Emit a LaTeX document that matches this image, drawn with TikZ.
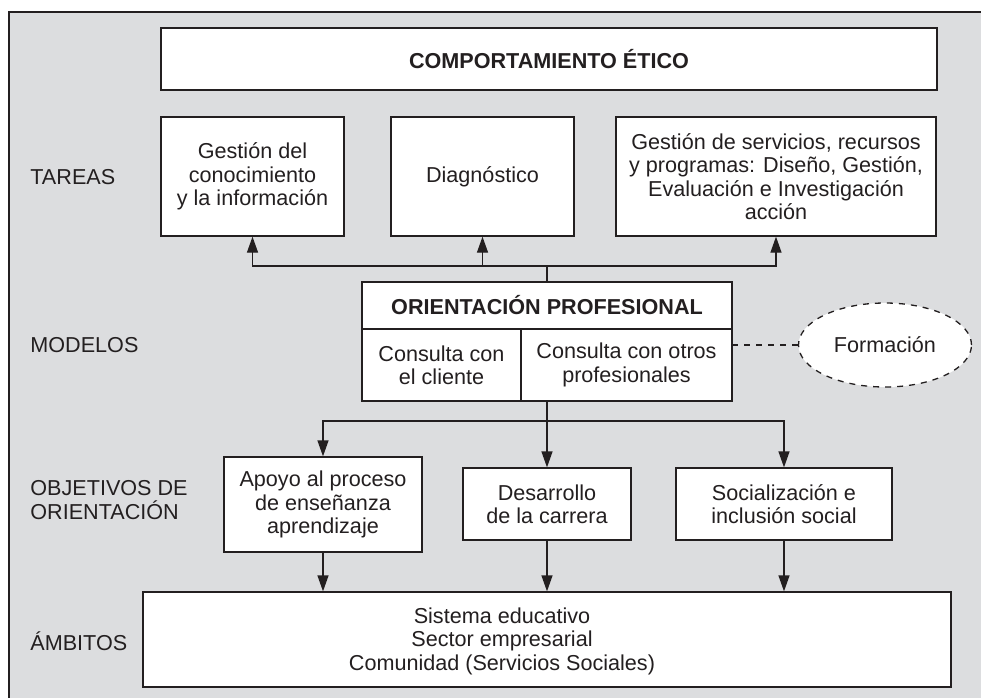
\documentclass[tikz,border=0pt]{standalone}
\usepackage{fontspec}
\setmainfont{Liberation Sans}
\usepackage{tikz}
\usetikzlibrary{calc, arrows.meta, shapes.geometric}
\usepackage{xcolor}
\definecolor{fondo}{RGB}{220,221,223}
\definecolor{tinta}{RGB}{35,31,32}
\tikzstyle{caja} = [rectangle, draw=tinta, fill=white, line width=0.65pt, text=tinta, align=center, inner sep=2pt, font=\fontsize{10.8}{11.7}\selectfont]
\tikzstyle{etiqueta} = [anchor=west, align=left, inner sep=0pt, text=tinta, font=\fontsize{10.8}{11.7}\selectfont]
\tikzstyle{flecha} = [-{Triangle[length=8pt, width=5.5pt]}, draw=tinta, line width=0.65pt]

\begin{document}
\begin{tikzpicture}[x=0.5pt, y=-0.5pt]

        \useasboundingbox (0,0) rectangle (981,698);
        \fill[fondo] (9,12) rectangle (981,698);
        \draw[tinta, line width=0.65pt] (981,12) -- (9,12) -- (9,698);

        \node (etico) [caja, minimum width=388pt, minimum height=31pt] at (549,59) {\textbf{COMPORTAMIENTO ÉTICO}};

        \node (gestion) [caja, minimum width=91.5pt, minimum height=59.5pt] at (252.5,176.5) {Gestión del\\conocimiento\\y la información};
        \node (diag) [caja, minimum width=91.5pt, minimum height=59.5pt] at (482.5,176.5) {Diagnóstico};
        \node (servicios) [caja, minimum width=160pt, minimum height=59.5pt] at (776,176.5) {Gestión de servicios, recursos\\y programas: Diseño, Gestión,\\Evaluación e Investigación\\acción};

        \node (op) [caja, minimum width=185pt, minimum height=23.5pt] at (547,305.5) {\textbf{ORIENTACIÓN PROFESIONAL}};
        \node (cliente) [caja, minimum width=79.5pt, minimum height=36pt] at (441.5,365) {Consulta con\\el cliente};
        \node (otros) [caja, minimum width=105.5pt, minimum height=36pt] at (626.5,365) {Consulta con otros\\profesionales};
        \node (formacion) [caja, ellipse, dashed, minimum width=86.5pt, minimum height=42pt] at (885,345) {Formación};

        \node (apoyo) [caja, minimum width=99pt, minimum height=47.5pt] at (323,504.5) {Apoyo al proceso\\de enseñanza\\aprendizaje};
        \node (desarrollo) [caja, minimum width=84pt, minimum height=36pt] at (547,504) {Desarrollo\\de la carrera};
        \node (social) [caja, minimum width=108pt, minimum height=36pt] at (784,504) {Socialización e\\inclusión social};

        \node (ambitos) [caja, minimum width=404pt, minimum height=47.5pt] at (547,639.5) {};
        \node (ambitostxt) [caja, draw=none, fill=none] at (502,641) {Sistema educativo\\Sector empresarial\\Comunidad (Servicios Sociales)};

        \node (tareas) [etiqueta] at (30,177) {TAREAS};
        \node (modelos) [etiqueta] at (30,345) {MODELOS};
        \node (objetivos) [etiqueta] at (30,500) {OBJETIVOS DE\\ORIENTACIÓN};
        \node (ambitoslbl) [etiqueta] at (30,641) {ÁMBITOS};

        \coordinate (cruceA) at (547,266);
        \coordinate (cruceB) at (547,421);

        \draw[tinta, line width=0.65pt] (op.north) -- (cruceA);
        \draw[flecha] (cruceA) -| (gestion);
        \draw[flecha] (cruceA) -| (diag);
        \draw[flecha] (cruceA) -| (servicios);

        \draw[tinta, line width=0.65pt, dashed] (formacion.west) -- (formacion.west -| otros.east);

        \draw[tinta, line width=0.65pt] (otros.south -| cruceB) -- (cruceB);
        \draw[flecha] (cruceB) -| (apoyo);
        \draw[flecha] (cruceB) -- (desarrollo);
        \draw[flecha] (cruceB) -| (social);

        \draw[flecha] (apoyo) -- (apoyo |- ambitos.north);
        \draw[flecha] (desarrollo) -- (desarrollo |- ambitos.north);
        \draw[flecha] (social) -- (social |- ambitos.north);

    \end{tikzpicture}
\end{document}
